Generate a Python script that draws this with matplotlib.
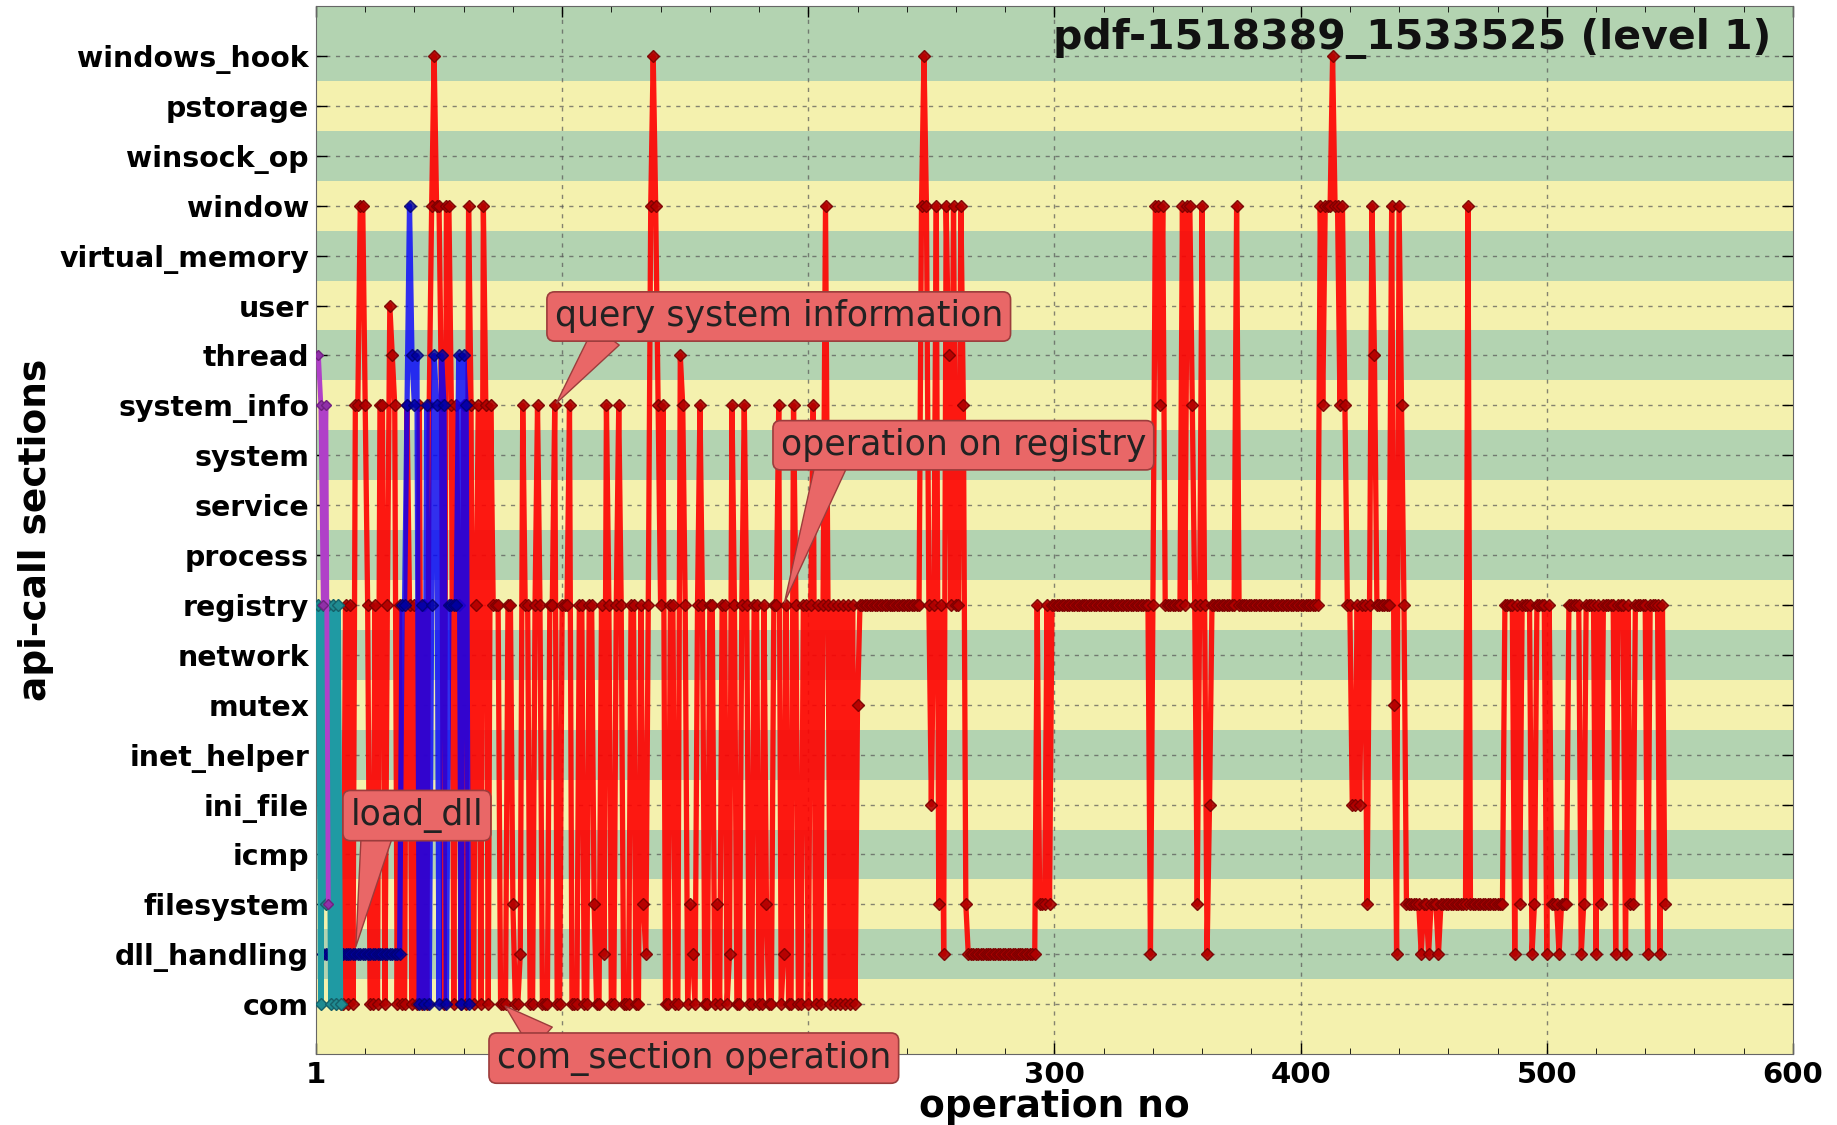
import numpy as np
import matplotlib.pyplot as plt

plt.rcParams['font.family'] = ['DejaVu Sans']

# api-call sections, bottom to top
sections = ['com', 'dll_handling', 'filesystem', 'icmp', 'ini_file', 'inet_helper',
            'mutex', 'network', 'registry', 'process', 'service', 'system',
            'system_info', 'thread', 'user', 'virtual_memory', 'window',
            'winsock_op', 'pstorage', 'windows_hook']

xtick_pos = [0, 100, 200, 300, 400, 500, 600]
xtick_lab = ['1', '100', '200', '300', '400', '500', '600']

# each series: first operation no, then runs of (section index, number of ops)
purple_start = 1
purple_runs = [(13, 1), (12, 1), (8, 1), (12, 1), (2, 1)]

teal_start = 1
teal_runs = [(8, 1), (0, 1), (8, 1), (2, 1), (8, 1), (0, 1), (8, 1), (0, 1), (8, 1), (0, 1)]

blue_start = 3
blue_runs = [(1, 32), (8, 2), (12, 1), (16, 1), (13, 1), (12, 1), (13, 1), (0, 1), (8, 1),
             (0, 1), (12, 1), (0, 1), (8, 1), (13, 1), (12, 1), (0, 1), (13, 1), (12, 1),
             (0, 1), (8, 4), (13, 1), (0, 1), (13, 1), (12, 1), (0, 1)]

red_start = 10
red_runs = [
    # 10 - 72
    (0, 2), (8, 1), (0, 1), (8, 1), (0, 1), (12, 2), (16, 2), (12, 1), (8, 1), (0, 2),
    (8, 1), (0, 1), (12, 2), (0, 1), (8, 1), (14, 1), (13, 1), (12, 1), (0, 1), (8, 1),
    (0, 2), (12, 1), (8, 1), (0, 1), (8, 1), (0, 1), (12, 1), (0, 1), (8, 1), (0, 1),
    (12, 1), (16, 1), (19, 1), (16, 2), (12, 1), (0, 1), (16, 2), (12, 1), (0, 1), (12, 1),
    (8, 1), (0, 1), (12, 1), (0, 1), (16, 1), (12, 1), (0, 1), (8, 1), (12, 1), (0, 1),
    (16, 1), (12, 1), (0, 1), (12, 1), (8, 1),
    # 73 - 220
    (8, 2), (0, 3), (8, 2), (2, 1), (0, 2), (1, 1), (12, 1), (8, 2), (0, 2), (8, 1),
    (12, 1), (8, 1), (0, 3), (8, 2), (12, 1), (0, 2), (8, 3), (12, 1), (0, 3), (8, 2),
    (0, 2), (8, 2), (2, 1), (0, 2), (8, 1), (1, 1), (12, 1), (8, 1), (0, 2), (8, 1),
    (12, 1), (8, 1), (0, 3), (8, 2), (0, 2), (8, 1), (2, 1), (1, 1), (8, 1), (16, 1),
    (19, 1), (16, 1), (12, 1), (8, 1), (12, 1), (0, 2), (8, 2), (0, 2), (13, 1), (12, 1),
    (8, 1), (0, 1), (2, 1), (1, 1), (0, 1), (8, 1), (12, 1), (8, 1), (0, 2), (8, 2),
    (0, 1), (2, 1), (0, 1), (8, 2), (0, 1), (1, 1), (12, 1), (8, 1), (0, 2), (8, 1),
    (12, 1), (8, 1), (0, 2), (8, 2), (0, 2), (8, 1), (2, 1), (0, 2), (8, 2), (12, 1),
    (0, 1), (1, 1), (8, 1), (0, 2), (12, 1), (8, 1), (0, 2), (8, 2), (0, 1), (8, 1),
    (12, 1), (0, 1), (8, 1), (0, 1), (8, 1), (16, 1), (8, 1), (0, 1), (8, 1), (0, 1),
    (8, 1), (0, 1), (8, 1), (0, 1), (8, 1), (0, 1), (8, 1), (0, 1), (6, 1),
    # 221 - 298
    (8, 25), (16, 1), (19, 1), (16, 1), (8, 1), (4, 1), (8, 1), (16, 1), (2, 1), (8, 1),
    (1, 1), (16, 1), (13, 1), (8, 1), (16, 1), (8, 2), (16, 1), (12, 1), (2, 1), (1, 28),
    (8, 1), (2, 3), (8, 1), (2, 1),
    # 299 - 442
    (8, 40), (1, 1), (8, 1), (16, 2), (12, 1), (16, 1), (8, 7), (16, 1), (8, 1), (16, 2),
    (12, 1), (8, 1), (2, 1), (8, 1), (16, 1), (8, 1), (1, 1), (4, 1), (8, 10), (16, 1),
    (8, 33), (16, 1), (12, 1), (16, 3), (19, 1), (16, 2), (12, 1), (16, 1), (12, 1), (8, 2),
    (4, 2), (8, 1), (4, 1), (8, 2), (2, 1), (8, 1), (16, 1), (13, 1), (8, 6), (16, 1),
    (6, 1), (1, 1), (16, 1), (12, 1), (8, 1),
    # 443 - 548
    (2, 6), (1, 1), (2, 2), (1, 1), (2, 3), (1, 1), (2, 11), (16, 1), (2, 14), (8, 4),
    (1, 1), (8, 1), (2, 1), (8, 4), (1, 1), (2, 1), (8, 4), (1, 1), (8, 1), (2, 3),
    (1, 1), (2, 3), (8, 5), (1, 1), (2, 1), (8, 4), (1, 1), (8, 1), (2, 1), (8, 5),
    (1, 1), (8, 3), (1, 1), (8, 1), (2, 2), (8, 5), (1, 1), (8, 4), (1, 1), (8, 1),
    (2, 1),
]


def expand(start, runs):
    ys = []
    for sec, n in runs:
        ys += [sec] * n
    return np.arange(start, start + len(ys)), np.array(ys)


fig = plt.figure(figsize=(18.37, 11.25), dpi=100)
ax = fig.add_axes([0.172, 0.063, 0.804, 0.9316])

# striped background, one band per section
green = '#b3d3b1'
yellow = '#f4f1ae'
for i in range(len(sections)):
    lo = i - 0.5 if i > 0 else -1
    hi = i + 0.5 if i < len(sections) - 1 else 20
    ax.axhspan(lo, hi, color=yellow if i % 2 == 0 else green, zorder=0, lw=0)

for yy in range(len(sections)):
    ax.axhline(yy, color='#555555', ls=(0, (3, 4)), lw=1.0, alpha=0.7, zorder=1)
for xx in xtick_pos[1:-1]:
    ax.axvline(xx, color='#555555', ls=(0, (3, 4)), lw=1.0, alpha=0.7, zorder=1)

x, y = expand(red_start, red_runs)
ax.plot(x, y, color='#ff0000', lw=3.8, marker='D', ms=6, mfc='#b00000', mec='#7a0000',
        alpha=0.9, zorder=3)
x, y = expand(blue_start, blue_runs)
ax.plot(x, y, color='#0000ff', lw=3.8, marker='D', ms=6, mfc='#0000a0', mec='#000070',
        alpha=0.8, zorder=4)
x, y = expand(teal_start, teal_runs)
ax.plot(x, y, color='#1f9aa3', lw=3.8, marker='D', ms=6, mfc='#1f8a90', mec='#156068',
        zorder=4)
x, y = expand(purple_start, purple_runs)
ax.plot(x, y, color='#b040c8', lw=3.5, marker='D', ms=5, mfc='#9030a8', mec='#702080',
        zorder=5)

ax.set_xlim(0, 600)
ax.set_ylim(-1, 20)
ax.set_yticks(range(len(sections)))
ax.set_yticklabels(sections, fontsize=20.4, fontweight='bold')
ax.set_xticks(xtick_pos)
ax.set_xticklabels(xtick_lab, fontsize=21, fontweight='bold')
ax.set_xticks(np.arange(20, 600, 20), minor=True)
ax.tick_params(direction='in', top=True, right=True, length=8, width=1)
ax.tick_params(axis='y', pad=5)
ax.tick_params(axis='x', pad=5)
ax.tick_params(which='minor', direction='in', top=True, length=4)
for s in ax.spines.values():
    s.set_color('#666666')

ax.set_xlabel('operation no', fontsize=27, fontweight='bold', labelpad=0)
ax.set_ylabel('api-call sections', fontsize=27, fontweight='bold', labelpad=4)

ax.text(0.985, 0.989, 'pdf-1518389_1533525 (level 1)', transform=ax.transAxes,
        ha='right', va='top', fontsize=29.5, fontweight='bold', color='#111111', zorder=8)

box_fc = '#e96767'
box_ec = '#9c3c3c'


def note(text, xy, xytext, rel):
    ax.annotate(text, xy=xy, xytext=xytext, ha='center', va='center', fontsize=25,
                color='#222222', zorder=10, annotation_clip=False,
                bbox=dict(boxstyle='round,pad=0.22', fc=box_fc, ec=box_ec, lw=1.2),
                arrowprops=dict(arrowstyle='wedge,tail_width=0.9', fc=box_fc, ec=box_ec,
                                lw=1.0, patchA=None, relpos=rel))


note('query system information', (97, 12), (188, 13.78), (0.12, 0.0))
note('operation on registry', (190, 8), (263, 11.2), (0.14, 0.0))
note('load_dll', (16, 1.1), (41, 3.78), (0.2, 0.0))
note('com_section operation', (76, 0), (153.5, -1.08), (0.12, 1.0))

fig.savefig('out.png', dpi=100)
